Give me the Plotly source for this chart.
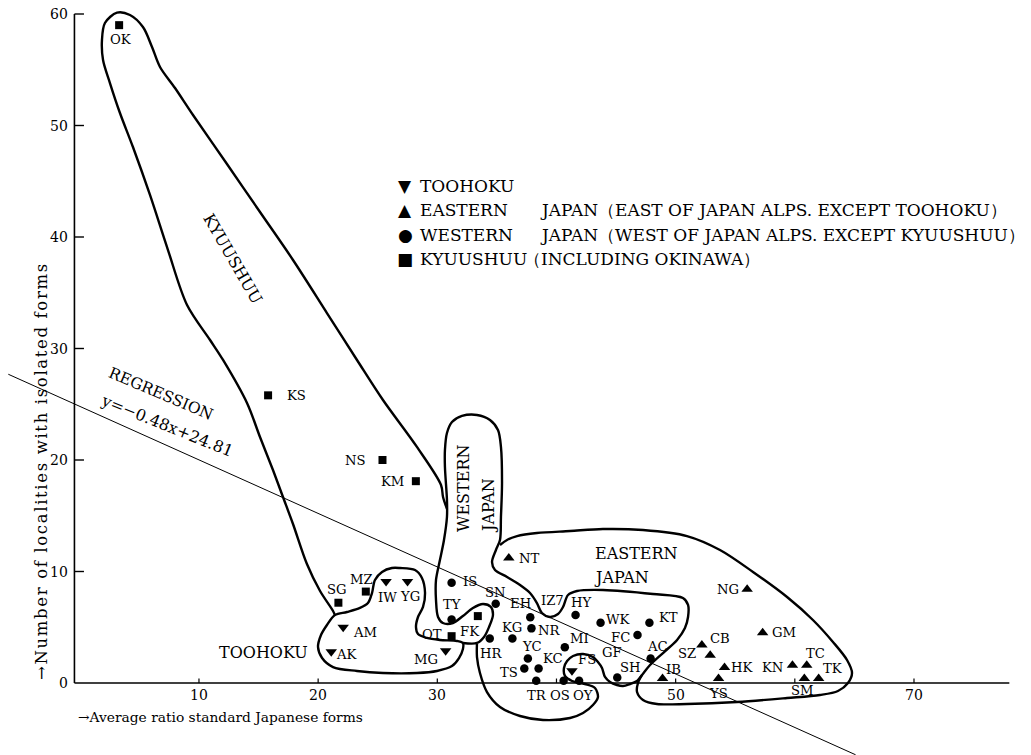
import plotly.graph_objects as go

# ---------------------------------------------------------------------------
# Prefectures: average ratio of standard Japanese forms (x) and
# number of localities with isolated forms (y), grouped by region.
# ---------------------------------------------------------------------------
kyuushuu_names = ["OK", "KS", "NS", "KM", "SG", "MZ", "OT", "FK"]
kyuushuu_x = [3.3, 15.8, 25.4, 28.2, 21.7, 24.0, 31.2, 33.4]
kyuushuu_y = [59.0, 25.8, 20.0, 18.1, 7.2, 8.2, 4.2, 6.0]

toohoku_names = ["IW", "YG", "AM", "AK", "MG", "FS"]
toohoku_x = [25.7, 27.5, 22.1, 21.1, 30.7, 41.3]
toohoku_y = [9.1, 9.1, 5.0, 2.8, 2.9, 1.1]

western_names = ["IS", "TY", "SN", "HR", "KG", "EH", "NR", "YC", "TS", "KC",
                 "TR", "OS", "OY", "MI", "HY", "WK", "KT", "FC", "AC", "SH"]
western_x = [31.2, 31.2, 34.9, 34.4, 36.3, 37.8, 37.9, 37.6, 37.3, 38.5,
             38.3, 40.6, 41.9, 40.7, 41.6, 43.7, 47.8, 46.8, 47.9, 45.1]
western_y = [9.0, 5.7, 7.1, 4.0, 4.0, 5.9, 4.9, 2.2, 1.3, 1.3,
             0.2, 0.2, 0.2, 3.2, 6.1, 5.4, 5.4, 4.3, 2.2, 0.5]

eastern_names = ["NT", "NG", "GM", "CB", "SZ", "HK", "KN", "TC", "TK", "SM", "YS", "IB"]
eastern_x = [36.0, 56.0, 57.3, 52.2, 52.9, 54.1, 59.8, 61.0, 62.0, 60.8, 53.6, 48.9]
eastern_y = [11.2, 8.4, 4.5, 3.4, 2.5, 1.4, 1.6, 1.6, 0.4, 0.4, 0.4, 0.4]

# names written without a symbol of their own
unmarked_names = ["GF", "IZ7"]
unmarked_x = [44.7, 39.7]
unmarked_y = [2.7, 7.4]

# regression line y = a*x + b
reg_slope = -0.48
reg_intercept = 24.81
reg_x_span = [-6.0, 65.1]

# axis ticks
y_ticks = [0, 10, 20, 30, 40, 50, 60]
x_tick_marks = [10, 20, 30, 40, 50, 60, 70]
x_tick_labels = [10, 20, 30, 50, 70]

# hand-drawn group outlines (data units)
kyuushuu_outline_x = [30.81, 30.48, 30.31, 28.29, 25.44, 23.26, 20.74, 17.89, 15.12, 12.35,
                      9.50, 7.99, 6.73, 6.06, 5.30, 4.21, 3.12, 2.11, 1.86,
                      1.95, 2.53, 3.37, 4.46, 5.89, 7.40, 9.00, 10.93, 12.02, 14.03,
                      15.12, 16.21, 17.05, 17.89, 19.06, 20.16, 21.25, 21.41]
kyuushuu_outline_y = [15.61, 16.68, 17.76, 21.17, 25.38, 28.97, 33.18, 37.94, 42.24, 46.55,
                      50.94, 53.36, 55.25, 57.04, 58.83, 59.91, 60.12, 59.19, 57.67,
                      55.87, 53.81, 51.12, 48.07, 43.77, 38.83, 33.90, 30.76, 28.97, 25.11,
                      22.06, 19.10, 16.68, 14.26, 10.67, 8.25, 6.46, 6.10]

toohoku_outline_x = [21.41, 22.42, 23.51, 24.18, 24.52, 24.77, 25.36, 26.19, 26.87, 28.13,
                     28.71, 28.97, 28.80, 28.38, 28.21, 28.38, 29.13, 30.22, 31.65, 32.15,
                     32.15, 31.82, 31.23, 29.97, 28.30, 25.44, 23.26, 21.25, 20.33, 19.99,
                     20.24, 20.74, 21.41]
toohoku_outline_y = [6.10, 6.37, 6.73, 7.17, 8.07, 9.24, 9.96, 10.31, 10.31, 10.13,
                     9.42, 8.07, 6.82, 5.92, 5.02, 4.39, 4.04, 3.86, 3.77, 3.59,
                     3.05, 2.24, 1.52, 1.08, 0.90, 0.90, 1.08, 1.43, 2.24, 3.23,
                     4.30, 5.20, 6.10]

western_outline_x = [32.15, 33.33, 33.92, 34.34, 34.67, 34.50, 33.83, 32.99, 32.15, 31.31,
                     30.47, 30.06, 29.89, 29.89, 30.22, 30.56, 30.81, 30.81, 30.64, 30.64,
                     30.81, 31.23, 32.07, 33.33, 34.42, 35.09, 35.34, 35.43, 35.34, 35.26,
                     34.92, 34.59, 34.84, 35.85, 36.94, 37.78, 38.36, 38.78, 39.45, 40.13,
                     40.55, 40.97, 41.72, 43.90, 48.10, 50.61, 51.04, 51.04, 50.78, 50.12,
                     48.94, 47.85, 47.18, 46.76, 46.17, 45.58, 45.08, 44.49, 44.07, 43.82,
                     43.48, 43.06, 42.23, 41.39, 40.89, 40.63, 40.71, 41.31, 42.39, 43.23,
                     43.48, 43.06, 42.23, 41.14, 38.87, 36.94, 35.26, 34.17, 33.58, 33.33,
                     33.33]
western_outline_y = [3.59, 3.59, 4.13, 5.02, 6.10, 6.82, 7.09, 6.73, 6.01, 5.38,
                     5.38, 5.92, 7.44, 9.24, 11.03, 12.83, 14.89, 16.41, 19.37, 20.90,
                     22.42, 23.41, 23.95, 24.04, 23.59, 22.69, 21.17, 17.94, 14.89, 12.83,
                     11.93, 10.85, 10.13, 9.51, 8.79, 8.07, 7.17, 6.28, 5.92, 6.19,
                     6.82, 7.89, 8.25, 8.34, 7.98, 7.62, 7.00, 5.92, 4.93, 3.86,
                     2.69, 1.61, 0.72, 0.18, -0.09, -0.27, -0.18, 0.09, 0.54, 1.35,
                     1.88, 2.33, 2.60, 2.42, 1.97, 1.35, 0.63, 0.18, -0.09, -0.45,
                     -1.26, -1.97, -2.69, -3.14, -3.32, -2.96, -2.15, -0.81, 0.90, 2.33,
                     3.59]

eastern_outline_x = [35.26, 35.85, 36.69, 38.36, 41.14, 43.90, 47.26, 50.95, 53.72, 56.49,
                     59.35, 61.52, 63.20, 64.38, 64.80, 64.46, 63.62, 62.11, 59.35, 55.15,
                     50.95, 48.43, 47.26, 46.76, 46.84, 47.18]
eastern_outline_y = [12.38, 12.83, 13.18, 13.45, 13.63, 13.81, 13.72, 13.18, 11.93, 9.96,
                     7.71, 5.65, 3.68, 2.06, 0.90, 0.00, -0.72, -1.08, -1.35, -1.70,
                     -1.88, -1.88, -1.52, -0.81, 0.00, 0.72]

# ---------------------------------------------------------------------------
W, H = 1031, 755
FONT = "DejaVu Serif"
INK = "black"

# pixel offsets of each name relative to its symbol (dx right, dy up)
label_offset = {
    "OK": (2, -14), "KS": (28, 0), "NS": (-27, 0), "KM": (-23, 0), "SG": (-1, 13),
    "MZ": (-4, 12), "OT": (-20, 2), "FK": (-8, -15),
    "IW": (1, -16), "YG": (2, -15), "AM": (22, -5), "AK": (16, -3), "MG": (-20, -9),
    "FS": (15, 11),
    "IS": (18, 1), "TY": (0, 15), "SN": (0, 11), "HR": (2, -15), "KG": (0, 11),
    "EH": (-10, 14), "NR": (18, -2), "YC": (4, 12), "TS": (-15, -4), "KC": (14, 10),
    "TR": (1, -15), "OS": (-4, -15), "OY": (4, -15), "MI": (15, 9), "HY": (6, 12),
    "WK": (18, 3), "KT": (19, 5), "FC": (-17, -2), "AC": (7, 12), "SH": (13, 10),
    "NT": (21, 0), "NG": (-19, 0), "GM": (21, 0), "CB": (18, 7), "SZ": (-23, 2),
    "HK": (18, 0), "KN": (-20, -2), "TC": (9, 12), "TK": (14, 10), "SM": (-2, -12),
    "YS": (0, -15), "IB": (11, 9),
}
LABEL_SIZE = 13.2

fig = go.Figure()

# group outlines
outline_line = dict(color=INK, width=2.4, shape="spline", smoothing=0.9)
for ox, oy in [(kyuushuu_outline_x, kyuushuu_outline_y),
               (toohoku_outline_x, toohoku_outline_y),
               (western_outline_x, western_outline_y),
               (eastern_outline_x, eastern_outline_y)]:
    fig.add_trace(go.Scatter(x=ox, y=oy, mode="lines", line=outline_line,
                             hoverinfo="skip", showlegend=False))

# regression line
fig.add_trace(go.Scatter(
    x=reg_x_span,
    y=[reg_slope * v + reg_intercept for v in reg_x_span],
    mode="lines", line=dict(color=INK, width=1), hoverinfo="skip", showlegend=False))

# prefecture symbols
groups = [
    ("TOOHOKU", toohoku_names, toohoku_x, toohoku_y, "triangle-down", 10),
    ("EASTERN JAPAN", eastern_names, eastern_x, eastern_y, "triangle-up", 10),
    ("WESTERN JAPAN", western_names, western_x, western_y, "circle", 8.5),
    ("KYUUSHUU", kyuushuu_names, kyuushuu_x, kyuushuu_y, "square", 8),
]
annotations = []
for gname, names, xs, ys, sym, size in groups:
    fig.add_trace(go.Scatter(
        x=xs, y=ys, mode="markers", name=gname, text=names,
        marker=dict(symbol=sym, size=size, color=INK, line=dict(width=0)),
        cliponaxis=False, showlegend=False))
    for n, xv, yv in zip(names, xs, ys):
        dx, dy = label_offset[n]
        annotations.append(dict(x=xv, y=yv, xref="x", yref="y", text=n, showarrow=False,
                                xshift=dx, yshift=dy,
                                font=dict(family=FONT, size=LABEL_SIZE, color=INK)))

for n, xv, yv in zip(unmarked_names, unmarked_x, unmarked_y):
    annotations.append(dict(x=xv, y=yv, xref="x", yref="y", text=n, showarrow=False,
                            font=dict(family=FONT, size=LABEL_SIZE, color=INK)))

# axes drawn in data space
AXIS_X = -0.45
X_END = 78.0
shapes = [
    dict(type="line", xref="x", yref="y", x0=AXIS_X, x1=AXIS_X, y0=0, y1=60,
         line=dict(color=INK, width=1.6)),
    dict(type="line", xref="x", yref="y", x0=AXIS_X, x1=X_END, y0=0, y1=0,
         line=dict(color=INK, width=1.3)),
]
for t in y_ticks[1:]:
    shapes.append(dict(type="line", xref="x", yref="y", x0=AXIS_X, x1=0.35, y0=t, y1=t,
                       line=dict(color=INK, width=1.4)))
for t in x_tick_marks:
    shapes.append(dict(type="line", xref="x", yref="y", x0=t, x1=t, y0=0, y1=0.4,
                       line=dict(color=INK, width=1.2)))

for t in y_ticks:
    annotations.append(dict(x=-0.8, y=t, xref="x", yref="y", text=str(t), showarrow=False,
                            xanchor="right", font=dict(family=FONT, size=14, color=INK)))
for t in x_tick_labels:
    annotations.append(dict(x=t, y=0, xref="x", yref="y", text=str(t), showarrow=False,
                            yshift=-12, font=dict(family=FONT, size=14, color=INK)))


def px(v):
    return v / W


def py(v):
    return 1 - v / H


def note(text, x, y, size=16, angle=0, xanchor="center"):
    annotations.append(dict(x=px(x), y=py(y), xref="paper", yref="paper", text=text,
                            showarrow=False, textangle=angle, xanchor=xanchor,
                            yanchor="middle", font=dict(family=FONT, size=size, color=INK)))


def spaced(text):
    # loose tracking, as in the printed axis caption
    return "\u200a".join(text)


# axis titles
note("→Average ratio standard Japanese forms", 76, 717, size=13.8, xanchor="left")
note(spaced("→Number of localities with isolated forms"), 42, 472, size=16.5, angle=-90)

# region names
note("KYUUSHUU", 233, 258, size=16, angle=60)
note("WESTERN", 463, 489, size=16, angle=-90)
note("JAPAN", 488, 506, size=16, angle=-90)
note("EASTERN", 636, 553, size=16)
note("JAPAN", 621, 577, size=16)
note("TOOHOKU", 263, 652, size=16)
note("REGRESSION", 161, 394, size=15.5, angle=23)
note("y=−0.48x+24.81", 167, 425, size=16, angle=22)

# key
KEY = 17
note("▼", 405, 186, size=KEY)
note("TOOHOKU", 418, 186, size=KEY, xanchor="left")
note("▲", 405, 210, size=KEY)
note("EASTERN", 418, 210, size=KEY, xanchor="left")
note("JAPAN", 538, 210, size=KEY, xanchor="left")
note("（EAST OF JAPAN ALPS. EXCEPT TOOHOKU）", 596, 210, size=KEY, xanchor="left")
note("●", 405, 235, size=KEY)
note("WESTERN", 418, 235, size=KEY, xanchor="left")
note("JAPAN", 538, 235, size=KEY, xanchor="left")
note("（WEST OF JAPAN ALPS. EXCEPT KYUUSHUU）", 596, 235, size=KEY, xanchor="left")
note("■", 405, 259, size=KEY)
note("KYUUSHUU", 418, 259, size=KEY, xanchor="left")
note("（INCLUDING OKINAWA）", 522, 259, size=KEY, xanchor="left")

x_lo, x_hi = -79.8 / 11.917, (W - 79.8) / 11.917
y_lo, y_hi = (683 - H) / 11.15, 683 / 11.15

fig.update_layout(
    width=W, height=H,
    margin=dict(l=0, r=0, t=0, b=0),
    paper_bgcolor="white", plot_bgcolor="white",
    xaxis=dict(range=[x_lo, x_hi], visible=False, fixedrange=True),
    yaxis=dict(range=[y_lo, y_hi], visible=False, fixedrange=True),
    showlegend=False,
    shapes=shapes,
    annotations=annotations,
)

fig.write_html("out.html")
